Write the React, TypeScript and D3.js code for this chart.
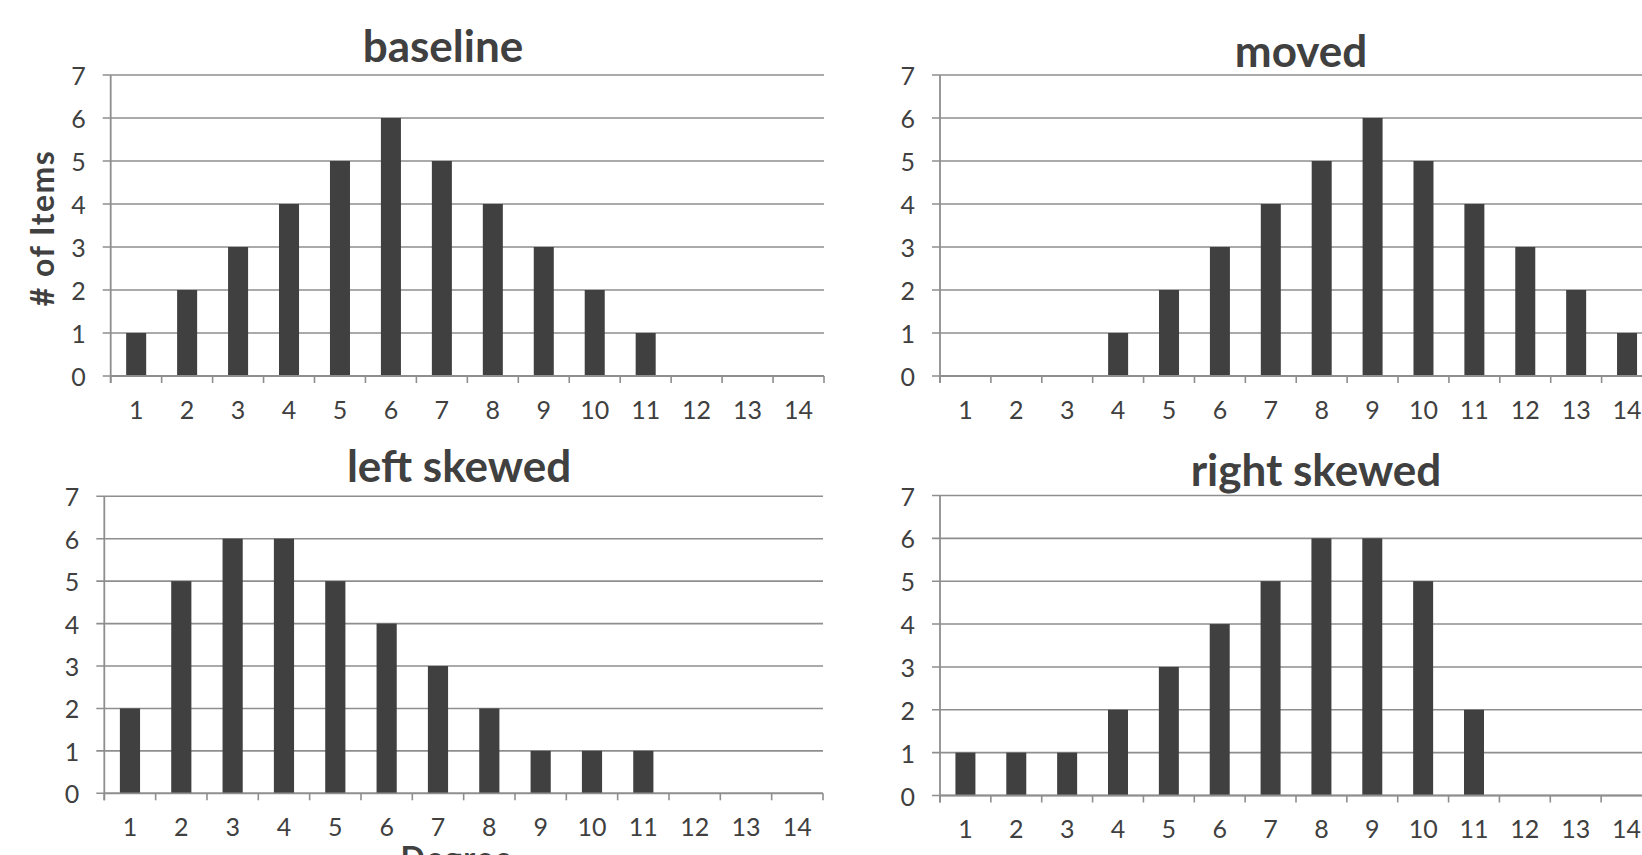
import React from "react";
import * as d3 from "d3";

const categories = ["1","2","3","4","5","6","7","8","9","10","11","12","13","14"];
const yTicks = [0,1,2,3,4,5,6,7];
const baselineValues = [1,2,3,4,5,6,5,4,3,2,1,0,0,0];
const movedValues = [0,0,0,1,2,3,4,5,6,5,4,3,2,1];
const leftSkewedValues = [2,5,6,6,5,4,3,2,1,1,1,0,0,0];
const rightSkewedValues = [1,1,1,2,3,4,5,6,6,5,2,0,0,0];
const titles = ["baseline","moved","left skewed","right skewed"];
const yAxisTitle = "# of Items";
const xAxisTitle = "Degree";

const GRID = "#8e8e8e";
const BAR = "#404040";
const TEXT = "#404040";
const FONT = "Lato, 'Open Sans', sans-serif";

type Layout = { x0: number; x1: number; yTop: number; y0: number; tx: number; ty: number };

const layouts: Layout[] = [
  { x0: 110.7, x1: 824, yTop: 75, y0: 376, tx: 443, ty: 62 },
  { x0: 940, x1: 1652.5, yTop: 75, y0: 376, tx: 1301, ty: 66.5 },
  { x0: 104.3, x1: 823, yTop: 496.3, y0: 793.3, tx: 459, ty: 482 },
  { x0: 940, x1: 1652, yTop: 495.5, y0: 795.5, tx: 1316, ty: 485.7 },
];

const seriesList = [baselineValues, movedValues, leftSkewedValues, rightSkewedValues];

function Panel({ values, title, L }: { values: number[]; title: string; L: Layout }) {
  const x = d3.scaleBand<string>().domain(categories).range([L.x0, L.x1]).paddingInner(0.607).paddingOuter(0.3035);
  const xb = d3.scaleBand<string>().domain(categories).range([L.x0, L.x1]);
  const y = d3.scaleLinear().domain([0, 7]).range([L.y0, L.yTop]);
  const step = xb.step();
  return (
    <g>
      {yTicks.map((t) => (
        <g key={"g" + t}>
          <line x1={L.x0 - 8} x2={L.x1} y1={y(t)} y2={y(t)} stroke={GRID} strokeWidth={1.6} />
          <text x={L.x0 - 25} y={y(t)} textAnchor="end" dominantBaseline="central" fontFamily={FONT} fontWeight={400} fontSize={25} fill={TEXT}>{t}</text>
        </g>
      ))}
      <line x1={L.x0} x2={L.x0} y1={L.yTop} y2={L.y0 + 7} stroke={GRID} strokeWidth={1.8} />
      {d3.range(categories.length + 1).map((k) => (
        <line key={"t" + k} x1={L.x0 + k * step} x2={L.x0 + k * step} y1={L.y0} y2={L.y0 + 7} stroke={GRID} strokeWidth={1.6} />
      ))}
      {values.map((v, i) => (
        v > 0 ? (
          <rect key={"b" + i} x={x(categories[i])} width={x.bandwidth()} y={y(v)} height={y(0) - y(v)} fill={BAR} />
        ) : null
      ))}
      <line x1={L.x0} x2={L.x1} y1={L.y0} y2={L.y0} stroke={GRID} strokeWidth={1.8} />
      {categories.map((c) => (
        <text key={"x" + c} x={(xb(c) as number) + step / 2} y={L.y0 + 42.5} textAnchor="middle" fontFamily={FONT} fontWeight={400} fontSize={25} fill={TEXT}>{c}</text>
      ))}
      <text x={L.tx} y={L.ty} textAnchor="middle" fontFamily={FONT} fontWeight={700} fontSize={44} fill={TEXT}>{title}</text>
    </g>
  );
}

export default function App() {
  return (
    <svg width={1642} height={855} style={{ position: "absolute", left: 0, top: 0, background: "#fff" }}>
      <rect x={0} y={0} width={1642} height={855} fill="#fff" />
      {layouts.map((L, i) => (
        <Panel key={i} values={seriesList[i]} title={titles[i]} L={L} />
      ))}
      <text transform="translate(54,228) rotate(-90)" textAnchor="middle" fontFamily={FONT} fontWeight={700} fontSize={32} letterSpacing={1.5} fill={TEXT}>{yAxisTitle}</text>
      <text x={457} y={870} textAnchor="middle" fontFamily={FONT} fontWeight={700} fontSize={32} letterSpacing={1.5} fill={TEXT}>{xAxisTitle}</text>
    </svg>
  );
}
